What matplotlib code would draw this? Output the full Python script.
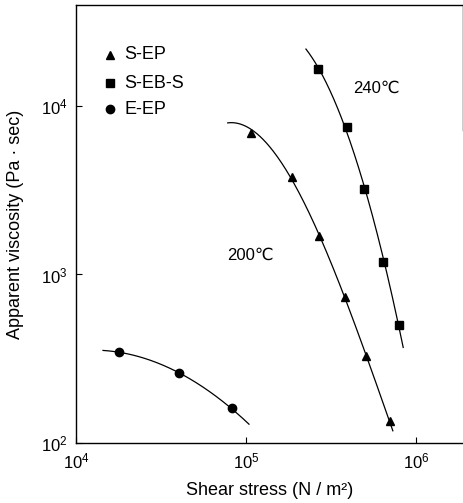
import numpy as np
import matplotlib
matplotlib.use("Agg")
import matplotlib.pyplot as plt

plt.rcParams.update({
    "font.family": ["Liberation Sans", "DejaVu Sans"],
    "font.size": 12,
    "xtick.direction": "in",
    "ytick.direction": "in",
})

# S-EP (triangles)
sep_stress = [1.07e5, 1.87e5, 2.7e5, 3.8e5, 5.08e5, 7.03e5]
sep_visc = [6900, 3800, 1680, 731, 327, 135]
sep_ends = ([7.8e4, 7.3e5], [8100, 117])  # where the drawn curve starts / stops

# S-EB-S (squares)
sebs_stress = [2.65e5, 3.93e5, 4.94e5, 6.4e5, 7.94e5]
sebs_visc = [16500, 7500, 3230, 1190, 500]
sebs_ends = ([2.25e5, 8.4e5], [21700, 372])

# E-EP (circles)
eep_stress = [1.79e4, 4.04e4, 8.28e4]
eep_visc = [346, 259, 162]
eep_ends = ([1.44e4, 1.04e5], [355, 128])


def smooth(xs, ys, ends, deg):
    lx = np.log10(list(xs) + ends[0])
    ly = np.log10(list(ys) + ends[1])
    p = np.polyfit(lx, ly, deg)
    gx = np.linspace(np.log10(ends[0][0]), np.log10(ends[0][1]), 200)
    return 10 ** gx, 10 ** np.polyval(p, gx)


fig = plt.figure(figsize=(4.64, 5.03), dpi=100)
ax = fig.add_axes([0.164, 0.119, 0.834, 0.871])
ax.set_xscale("log")
ax.set_yscale("log")

for xs, ys, ends, deg, mk, ms in [
    (sep_stress, sep_visc, sep_ends, 3, "^", 6),
    (sebs_stress, sebs_visc, sebs_ends, 2, "s", 5.5),
    (eep_stress, eep_visc, eep_ends, 2, "o", 6),
]:
    cx, cy = smooth(xs, ys, ends, deg)
    ax.plot(cx, cy, color="black", lw=0.9)
    ax.plot(xs, ys, ls="none", marker=mk, ms=ms, color="black")

ax.set_xlim(1e4, 1.89e6)
ax.set_ylim(100, 3.96e4)
ax.set_xticks([1e4, 1e5, 1e6])
ax.set_yticks([1e2, 1e3, 1e4])
ax.minorticks_off()
ax.tick_params(length=4, width=0.8, labelsize=12, pad=6)

ax.spines["right"].set_bounds(7.2e3, 3.96e4)
for s in ax.spines.values():
    s.set_linewidth(1.0)

ax.set_xlabel("Shear stress (N / m²)", fontsize=13, labelpad=8)
ax.set_ylabel("Apparent viscosity (Pa · sec)", fontsize=13, labelpad=12)

# legend as text, like the original
leg_y = [0.887, 0.822, 0.762]
for (mk, ms, lbl), yy in zip([("^", 6, "S-EP"), ("s", 5.5, "S-EB-S"), ("o", 6, "E-EP")], leg_y):
    ax.plot([0.088], [yy], transform=ax.transAxes, marker=mk, ms=ms,
            color="black", ls="none", clip_on=False)
    ax.text(0.125, yy, lbl, transform=ax.transAxes, va="center", ha="left",
            fontsize=13)

ax.text(0.715, 0.81, "240℃", transform=ax.transAxes, fontsize=12,
        va="center", ha="left")
ax.text(0.39, 0.428, "200℃", transform=ax.transAxes, fontsize=12,
        va="center", ha="left")

fig.savefig("out.png", dpi=100, facecolor="white")
